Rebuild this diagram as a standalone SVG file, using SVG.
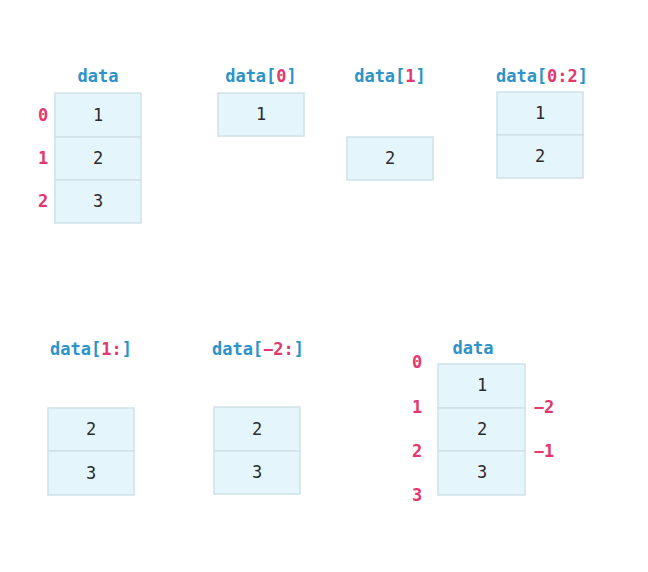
<svg xmlns="http://www.w3.org/2000/svg" width="648" height="572" viewBox="0 0 648 572">
<style>
.lbl{font-family:"DejaVu Sans Mono",monospace;font-weight:bold;font-size:17px;fill:#2e93c9;text-anchor:middle}
.pk{fill:#e2376f}
.idx{font-family:"DejaVu Sans Mono",monospace;font-weight:bold;font-size:17px;fill:#e2376f;text-anchor:middle}
.cell{fill:#e4f5fb;stroke:#d0e1e7;stroke-width:1.5}
.val{font-family:"DejaVu Sans Mono",monospace;font-size:17px;fill:#2b2b2b;text-anchor:middle}
</style>
<rect width="648" height="572" fill="#fff"/>
<g id="data-top">
<text class="lbl" x="98" y="82">data</text>
<rect class="cell" x="55" y="93" width="86" height="44"/>
<rect class="cell" x="55" y="137" width="86" height="43"/>
<rect class="cell" x="55" y="180" width="86" height="43"/>
<text class="val" x="98" y="121">1</text>
<text class="val" x="98" y="164">2</text>
<text class="val" x="98" y="207">3</text>
<text class="idx" x="43" y="121">0</text>
<text class="idx" x="43" y="164">1</text>
<text class="idx" x="43" y="207">2</text>
</g>
<g id="data0">
<text class="lbl" x="261" y="82">data[<tspan class="pk">0</tspan>]</text>
<rect class="cell" x="218" y="93" width="86" height="43"/>
<text class="val" x="261" y="120">1</text>
</g>
<g id="data1">
<text class="lbl" x="390" y="82">data[<tspan class="pk">1</tspan>]</text>
<rect class="cell" x="347" y="137" width="86" height="43"/>
<text class="val" x="390" y="164">2</text>
</g>
<g id="data02">
<text class="lbl" x="542" y="82">data[<tspan class="pk">0:2</tspan>]</text>
<rect class="cell" x="497" y="92" width="86" height="43"/>
<rect class="cell" x="497" y="135" width="86" height="43"/>
<text class="val" x="540" y="119">1</text>
<text class="val" x="540" y="162">2</text>
</g>
<g id="data1colon">
<text class="lbl" x="91" y="355">data[<tspan class="pk">1:</tspan>]</text>
<rect class="cell" x="48" y="408" width="86" height="43"/>
<rect class="cell" x="48" y="451" width="86" height="44"/>
<text class="val" x="91" y="435">2</text>
<text class="val" x="91" y="479">3</text>
</g>
<g id="datam2">
<text class="lbl" x="258" y="355">data[<tspan class="pk">−2:</tspan>]</text>
<rect class="cell" x="214" y="407" width="86" height="44"/>
<rect class="cell" x="214" y="451" width="86" height="43"/>
<text class="val" x="257" y="435">2</text>
<text class="val" x="257" y="478">3</text>
</g>
<g id="data-bottom">
<text class="lbl" x="473" y="354">data</text>
<rect class="cell" x="438" y="364" width="87" height="44"/>
<rect class="cell" x="438" y="408" width="87" height="43"/>
<rect class="cell" x="438" y="451" width="87" height="44"/>
<text class="val" x="482" y="391">1</text>
<text class="val" x="482" y="435">2</text>
<text class="val" x="482" y="478">3</text>
<text class="idx" x="417" y="368">0</text>
<text class="idx" x="417" y="413">1</text>
<text class="idx" x="417" y="457">2</text>
<text class="idx" x="417" y="501">3</text>
<text class="idx" x="544" y="413">−2</text>
<text class="idx" x="544" y="457">−1</text>
</g>
</svg>
